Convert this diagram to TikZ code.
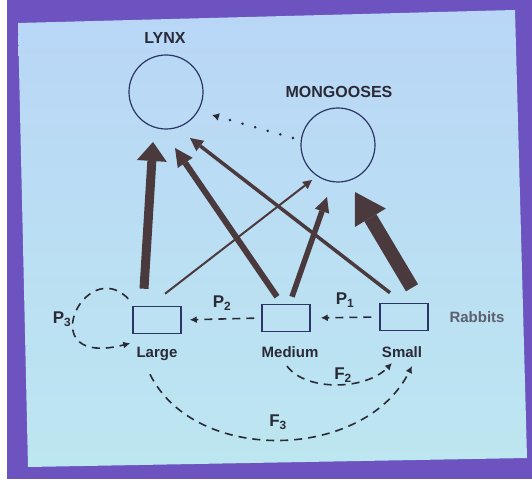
\documentclass[tikz,border=0pt]{standalone}
\usepackage{fontspec}
\setmainfont{Liberation Sans}
\usetikzlibrary{arrows.meta}

\definecolor{slide}{HTML}{6C53C0}
\definecolor{paneltop}{HTML}{B9D6F6}
\definecolor{panelbot}{HTML}{BCE6F0}
\definecolor{navy}{HTML}{2B3566}
\definecolor{feed}{HTML}{4B3A3D}
\definecolor{ink}{HTML}{2A2A36}
\definecolor{soft}{HTML}{5C5F70}

\begin{document}
\begin{tikzpicture}
  [x=1pt,y=1pt,
   every node/.style={text=ink, font=\bfseries\fontsize{15}{17}\selectfont},
   pred/.style={circle, draw=navy, line width=1.2pt, minimum size=74pt},
   prey/.style={rectangle, draw=navy, line width=1.5pt, minimum width=48pt, minimum height=27pt},
   title/.style={font=\bfseries\fontsize{16}{18}\selectfont},
   rate/.style={font=\bfseries\fontsize{17}{19}\selectfont},
   eat/.style n args={3}{draw=feed, line width=#1, -{Triangle[length=#2,width=#3,line width=0pt]}},
   flow/.style={draw=ink, line width=1.6pt, dash pattern=on 8pt off 6pt, -{Latex[length=7pt,width=7pt]}},
   kill/.style={draw=ink, line width=2.8pt, line cap=round, dash pattern=on 0.1pt off 13pt, -{Latex[length=7pt,width=8pt]}}]

  % slide and projected panel
  \useasboundingbox (0,0) rectangle (532,479);
  \fill[slide] (0,0) rectangle (532,479);
  \fill[white] (0,0) rectangle (7,479);
  \shade[top color=paneltop, bottom color=panelbot] (18,456) -- (515,469) -- (527,21) -- (28,12) -- cycle;

  % predators
  \node [pred] (lynx) at (166,387) {};
  \node [pred] (mong) at (338,334) {};
  \node [title] (lynxlbl) at (165,441) {LYNX};
  \node [title] (monglbl) at (339,387) {MONGOOSES};

  % rabbit classes
  \node [prey] (large)  at (157,159) {};
  \node [prey] (medium) at (286,161) {};
  \node [prey] (small)  at (404,162) {};
  \node (largelbl)  at (157,125) {Large};
  \node (mediumlbl) at (290,127) {Medium};
  \node (smalllbl)  at (402,127) {Small};
  \node [text=soft] (rabbits) at (477,162) {Rabbits};

  % who eats whom
  \draw[eat={9pt}{19pt}{30pt}] ([xshift=-13pt,yshift=17pt]large.north) -- ([xshift=-13pt,yshift=-50pt]lynx.center);
  \draw[eat={2pt}{9pt}{9pt}] ([xshift=8pt,yshift=12pt]large.north) -- ([xshift=-26pt,yshift=-35pt]mong.center);
  \draw[eat={6pt}{18pt}{18pt}] ([xshift=-9pt,yshift=7pt]medium.north) -- ([xshift=9pt,yshift=-56pt]lynx.center);
  \draw[eat={5.5pt}{15pt}{15pt}] ([xshift=6pt,yshift=7pt]medium.north) -- ([xshift=-11pt,yshift=-52pt]mong.center);
  \draw[eat={3.5pt}{13pt}{13pt}] ([xshift=-14pt,yshift=10pt]small.north) -- ([xshift=24pt,yshift=-46pt]lynx.center);
  \draw[eat={14pt}{30pt}{36pt}] ([xshift=8pt,yshift=15pt]small.north) -- ([xshift=17pt,yshift=-47pt]mong.center);
  \draw[kill] ([xshift=-45pt,yshift=7pt]mong.center) -- ([xshift=46pt,yshift=-23pt]lynx.center);

  % growth and fecundity
  \draw[flow, shorten <=7pt, shorten >=8pt] (medium.west) -- (large.east);
  \draw[flow, shorten <=8pt, shorten >=10pt] (small.west) -- (medium.east);
  \draw[flow] ([xshift=-4pt,yshift=7pt]large.north west) .. controls (85,225) and (30,110) .. ([xshift=-2pt,yshift=-9pt]large.south west);
  \draw[flow] ([xshift=-3pt,yshift=-5pt]mediumlbl.south) .. controls (305,88) and (365,88) .. ([xshift=-10pt,yshift=-2pt]smalllbl.south);
  \draw[flow] ([xshift=-7pt,yshift=-10pt]largelbl.south) .. controls (195,14) and (365,18) .. ([xshift=10pt,yshift=-5pt]smalllbl.south);

  \node [rate] (p1) at (345,179) {P\textsubscript{1}};
  \node [rate] (p2) at (222,176) {P\textsubscript{2}};
  \node [rate] (p3) at (62,160)  {P\textsubscript{3}};
  \node [rate] (f2) at (343,104) {F\textsubscript{2}};
  \node [rate] (f3) at (278,57)  {F\textsubscript{3}};
\end{tikzpicture}
\end{document}
